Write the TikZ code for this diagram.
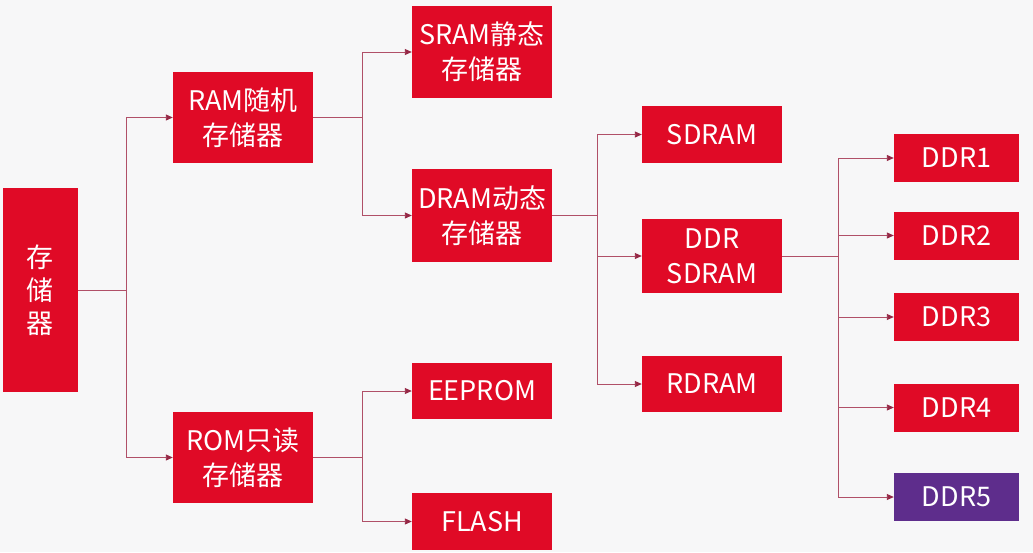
\documentclass[tikz,border=0pt]{standalone}
\usepackage{fontspec}
\newfontfamily\cjk{Noto Sans CJK SC}
\usetikzlibrary{arrows.meta}
\usepackage{xcolor}

\definecolor{memred}{RGB}{224,10,38}
\definecolor{mempurple}{RGB}{94,45,140}
\definecolor{linkcol}{RGB}{176,80,104}
\definecolor{tipcol}{RGB}{150,40,70}
\definecolor{bgcol}{RGB}{247,247,248}

\tikzset{
  box/.style={fill=memred, text=white, inner sep=0pt, align=center,
    minimum width=140pt, font=\cjk\fontsize{27}{35}\selectfont},
  link/.style={draw=linkcol, line width=0.9pt},
  arr/.style={link, -{Triangle[length=7pt,width=6pt,color=tipcol]}}
}

\begin{document}
\begin{tikzpicture}[x=1pt,y=-1pt]
%background
\fill[bgcol] (0,0) rectangle (1033,552);
\useasboundingbox (0,0) rectangle (1033,552);

%root
\node[box, minimum width=75pt, minimum height=204pt,
  font=\cjk\fontsize{27}{33}\selectfont] (mem) at (40.5,290) {存\\储\\器};

%level 1
\node[box, minimum height=91pt] (ram) at (243,117.5) {RAM随机\\存储器};
\node[box, minimum height=91pt] (rom) at (243,457.5) {ROM只读\\存储器};

%level 2
\node[box, minimum height=92pt] (sram) at (482,52) {SRAM静态\\存储器};
\node[box, minimum height=93pt] (dram) at (482,215.5) {DRAM动态\\存储器};
\node[box, minimum height=56pt] (eeprom) at (482,391) {EEPROM};
\node[box, minimum height=57pt] (flash) at (482,521.5) {FLASH};

%level 3
\node[box, minimum height=57pt] (sdram) at (712,134.5) {SDRAM};
\node[box, minimum height=74pt] (ddrsd) at (712,256) {DDR\\SDRAM};
\node[box, minimum height=56pt] (rdram) at (712,384) {RDRAM};

%level 4
\node[box, minimum width=125pt, minimum height=48pt] (ddr1) at (956.5,158) {DDR1};
\node[box, minimum width=125pt, minimum height=48pt] (ddr2) at (956.5,235.5) {DDR2};
\node[box, minimum width=125pt, minimum height=48pt] (ddr3) at (956.5,317) {DDR3};
\node[box, minimum width=125pt, minimum height=48pt] (ddr4) at (956.5,407.5) {DDR4};
\node[box, fill=mempurple, minimum width=125pt, minimum height=48pt] (ddr5) at (956.5,497) {DDR5};

%junctions
\coordinate (j1) at ([xshift=48pt]mem.east);
\coordinate (j2) at ([xshift=49pt]ram.east);
\coordinate (j3) at ([xshift=49pt]rom.east);
\coordinate (j4) at ([xshift=45pt]dram.east);
\coordinate (j5) at ([xshift=56pt]ddrsd.east);

%links
\draw[link] (mem.east) -- (j1);
\draw[arr] (j1) |- (ram.west);
\draw[arr] (j1) |- (rom.west);

\draw[link] (ram.east) -- (j2);
\draw[arr] (j2) |- (sram.west);
\draw[arr] (j2) |- (dram.west);

\draw[link] (rom.east) -- (j3);
\draw[arr] (j3) |- (eeprom.west);
\draw[arr] (j3) |- (flash.west);

\draw[link] (dram.east) -- (j4);
\draw[arr] (j4) |- (sdram.west);
\draw[arr] (j4) |- (ddrsd.west);
\draw[arr] (j4) |- (rdram.west);

\draw[link] (ddrsd.east) -- (j5);
\draw[arr] (j5) |- (ddr1.west);
\draw[arr] (j5) |- (ddr2.west);
\draw[arr] (j5) |- (ddr3.west);
\draw[arr] (j5) |- (ddr4.west);
\draw[arr] (j5) |- (ddr5.west);
\end{tikzpicture}
\end{document}
